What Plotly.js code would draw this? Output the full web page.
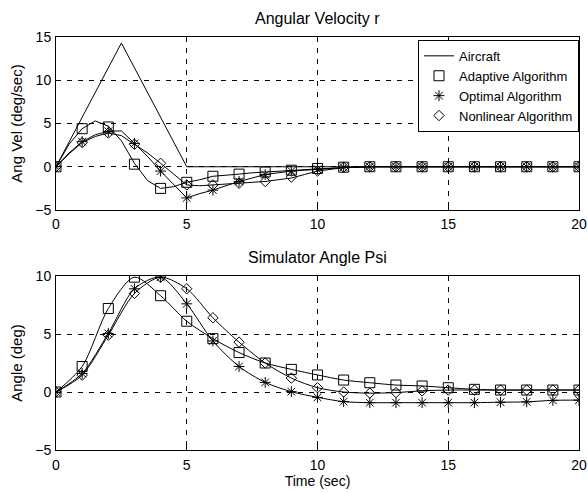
<!DOCTYPE html>
<html>
<head>
<meta charset="utf-8">
<script src="https://cdn.plot.ly/plotly-3.0.1.min.js"></script>
<style>html,body{margin:0;padding:0;background:#fff;}#chart{width:588px;height:493px;}</style>
</head>
<body>
<div id="chart"></div>
<script>
// ---- Data ----
// marker sample times (s)
const tMarks = [0,1,2,3,4,5,6,7,8,9,10,11,12,13,14,15,16,17,18,19,20];

// Top plot: Angular Velocity r (deg/sec)
const aircraftT = [0, 2.5, 5, 20];
const aircraftR = [0, 14.3, 0, 0];

// line sample times for the algorithm curves (top plot)
const tLineR = [0,0.5,1,1.5,2,2.5,3,3.5,4,4.5,5,5.5,6,6.5,7,7.5,8,8.5,9,9.5,10,11,12,13,14,15,16,17,18,19,20];
const adaptiveRLine  = [0,2.6,4.4,5.3,4.7,3.0,0.4,-1.6,-2.5,-2.3,-1.8,-1.5,-1.1,-1.0,-0.85,-0.7,-0.6,-0.5,-0.4,-0.3,-0.25,-0.1,0,0,0,0,0,0,0,0,0];
const optimalRLine   = [0,1.6,2.9,3.7,4.1,4.15,2.7,1.2,-0.5,-2.1,-3.6,-3.1,-2.7,-2.2,-1.7,-1.3,-0.9,-0.7,-0.5,-0.4,-0.3,-0.1,0,0,0,0,0,0,0,0,0];
const nonlinearRLine = [0,1.5,2.8,3.5,3.9,3.6,2.6,1.6,0.4,-0.9,-2.1,-2.2,-2.1,-2.0,-1.9,-1.8,-1.7,-1.5,-1.3,-0.9,-0.5,-0.1,0,0,0,0,0,0,0,0,0];

// markers (top plot) at integer seconds
const adaptiveR  = [0,4.4,4.6,0.3,-2.5,-1.8,-1.1,-0.85,-0.6,-0.4,-0.2,-0.05,0,0,0,0,0,0,0,0,0];
const optimalR   = [0,2.9,4.1,2.7,-0.5,-3.6,-2.7,-1.7,-0.9,-0.5,-0.3,-0.05,0,0,0,0,0,0,0,0,0];
const nonlinearR = [0,2.8,3.9,2.6,0.4,-2.1,-2.1,-1.9,-1.7,-1.2,-0.5,-0.05,0,0,0,0,0,0,0,0,0];

// Bottom plot: Simulator Angle Psi (deg), at integer seconds
const adaptivePsi  = [0,2.2,7.2,9.9,8.3,6.1,4.6,3.4,2.5,1.95,1.47,1.03,0.8,0.6,0.52,0.37,0.23,0.17,0.17,0.17,0.17];
const optimalPsi   = [0,1.6,5.05,8.9,9.9,7.6,4.4,2.2,0.83,0.03,-0.46,-0.83,-0.92,-0.92,-0.92,-0.92,-0.92,-0.88,-0.85,-0.72,-0.7];
const nonlinearPsi = [0,1.45,4.9,8.5,9.9,8.9,6.4,4.3,2.5,1.2,0.37,0.0,-0.1,-0.05,0.1,0.17,0.17,0.17,0.17,0.17,0.17];

const seriesNames = ["Aircraft","Adaptive Algorithm","Optimal Algorithm","Nonlinear Algorithm"];
const xTicks = [0,5,10,15,20];
const yTicksTop = [-5,0,5,10,15];
const yTicksBottom = [-5,0,5,10];
const titles = ["Angular Velocity r","Simulator Angle Psi"];

// ---- Styling ----
const FONT = "Liberation Sans, Arial, Helvetica, sans-serif";
const BLK = "#000";
const lineStyle = {color: BLK, width: 1};
const sym = {
  adaptive: {symbol: "square-open", size: 10, color: BLK, line: {color: BLK, width: 1}},
  optimal: {symbol: "asterisk-open", size: 9, color: BLK, line: {color: BLK, width: 1}},
  nonlinear: {symbol: "diamond-open", size: 8, color: BLK, line: {color: BLK, width: 1}}
};

const traces = [
  // top: lines
  {x: aircraftT, y: aircraftR, mode: "lines", line: lineStyle, name: seriesNames[0], xaxis: "x", yaxis: "y", showlegend: true},
  {x: tLineR, y: adaptiveRLine, mode: "lines", line: lineStyle, xaxis: "x", yaxis: "y", showlegend: false, hoverinfo: "skip"},
  {x: tLineR, y: optimalRLine, mode: "lines", line: lineStyle, xaxis: "x", yaxis: "y", showlegend: false, hoverinfo: "skip"},
  {x: tLineR, y: nonlinearRLine, mode: "lines", line: lineStyle, xaxis: "x", yaxis: "y", showlegend: false, hoverinfo: "skip"},
  // top: markers
  {x: tMarks, y: adaptiveR, mode: "markers", marker: sym.adaptive, name: seriesNames[1], xaxis: "x", yaxis: "y"},
  {x: tMarks, y: optimalR, mode: "markers", marker: sym.optimal, name: seriesNames[2], xaxis: "x", yaxis: "y"},
  {x: tMarks, y: nonlinearR, mode: "markers", marker: sym.nonlinear, name: seriesNames[3], xaxis: "x", yaxis: "y"},
  // bottom
  {x: tMarks, y: adaptivePsi, mode: "lines+markers", line: {color: BLK, width: 1, shape: "spline", smoothing: 0.8}, marker: sym.adaptive, xaxis: "x2", yaxis: "y2", showlegend: false},
  {x: tMarks, y: optimalPsi, mode: "lines+markers", line: {color: BLK, width: 1, shape: "spline", smoothing: 0.8}, marker: sym.optimal, xaxis: "x2", yaxis: "y2", showlegend: false},
  {x: tMarks, y: nonlinearPsi, mode: "lines+markers", line: {color: BLK, width: 1, shape: "spline", smoothing: 0.8}, marker: sym.nonlinear, xaxis: "x2", yaxis: "y2", showlegend: false}
];

const axBase = {
  showline: true, mirror: "ticks", linecolor: BLK, linewidth: 1,
  ticks: "inside", ticklen: 5, tickcolor: BLK, tickwidth: 1,
  showgrid: true, gridcolor: BLK, gridwidth: 1, griddash: "5px,6px",
  zeroline: false, tickfont: {family: FONT, size: 14, color: BLK},
  tickmode: "array"
};

const layout = {
  width: 588, height: 493,
  margin: {l: 56, r: 9, t: 37, b: 43},
  paper_bgcolor: "#fff", plot_bgcolor: "#fff",
  font: {family: FONT, size: 14, color: BLK},
  showlegend: true,
  legend: {x: 1, xanchor: "right", y: 0.993, yanchor: "top",
           bgcolor: "#fff", bordercolor: BLK, borderwidth: 1,
           font: {family: FONT, size: 13, color: BLK}, tracegroupgap: 0},
  xaxis: Object.assign({}, axBase, {domain: [0,1], range: [0,20], tickvals: xTicks, anchor: "y", ticklabelstandoff: 1}),
  yaxis: Object.assign({}, axBase, {domain: [0.5811,1], range: [-5,15], tickvals: yTicksTop, anchor: "x", ticklabelstandoff: 1,
           title: {text: "Ang Vel (deg/sec)", font: {family: FONT, size: 15, color: BLK}, standoff: 8}}),
  xaxis2: Object.assign({}, axBase, {domain: [0,1], range: [0,20], tickvals: xTicks, anchor: "y2", ticklabelstandoff: 2,
           title: {text: "Time (sec)", font: {family: FONT, size: 14, color: BLK}, standoff: 3}}),
  yaxis2: Object.assign({}, axBase, {domain: [0,0.4213], range: [-5,10], tickvals: yTicksBottom, anchor: "x2", ticklabelstandoff: 1,
           title: {text: "Angle (deg)", font: {family: FONT, size: 15, color: BLK}, standoff: 8}}),
  annotations: [
    {text: titles[0], xref: "paper", yref: "paper", x: 0.5, y: 1.046, xanchor: "center", yanchor: "middle", showarrow: false, font: {family: FONT, size: 16, color: BLK}},
    {text: titles[1], xref: "paper", yref: "paper", x: 0.5, y: 0.467, xanchor: "center", yanchor: "middle", showarrow: false, font: {family: FONT, size: 16, color: BLK}}
  ]
};

Plotly.newPlot("chart", traces, layout, {displayModeBar: false, staticPlot: true});
</script>
</body>
</html>
